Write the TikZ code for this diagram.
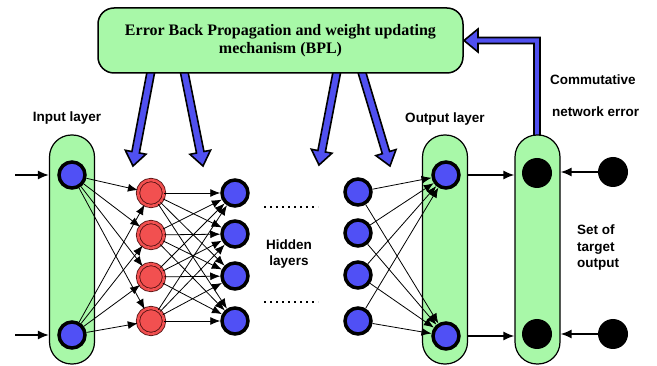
\documentclass[tikz,border=0pt]{standalone}
\usepackage{fontspec}
\setmainfont{Liberation Serif}
\setsansfont{Liberation Sans}
\usetikzlibrary{calc,arrows.meta}

\definecolor{pillgreen}{HTML}{A8F8A8}
\definecolor{nodeblue}{HTML}{5050F5}
\definecolor{nodered}{HTML}{F25050}
\definecolor{ringred}{HTML}{501010}
\definecolor{arrowblue}{HTML}{5050F0}

\tikzset{
  pill/.style={draw=black, line width=1.2pt, fill=pillgreen, rounded corners=22pt,
               minimum width=45pt, minimum height=229pt, inner sep=0pt},
  bplbox/.style={draw=black, line width=1.5pt, fill=pillgreen, rounded corners=16pt,
                 minimum width=365pt, minimum height=65pt, align=center,
                 font=\bfseries\fontsize{16}{18.5}\selectfont},
  bluen/.style={circle, draw=black, line width=3.5pt, fill=nodeblue, minimum size=26pt, inner sep=0pt},
  redn/.style={circle, draw=ringred, line width=0.8pt, double=nodered, double distance=2.6pt,
               fill=nodered, minimum size=26pt, inner sep=0pt},
  blackn/.style={circle, fill=black, minimum size=30pt, inner sep=0pt},
  lbl/.style={font=\sffamily\bfseries\fontsize{13.5}{16.5}\selectfont, inner sep=0pt},
  conn/.style={-{Latex[length=10pt,width=8pt]}, line width=0.8pt},
  ioconn/.style={-{Latex[length=11pt,width=9pt]}, line width=1.6pt},
  fatarrow/.style={draw=black, line width=1.6pt, fill=arrowblue, line join=miter},
}

% wide outlined arrow from #1 to #2
\newcommand\fatarrow[2]{%
  \coordinate (fa-m) at ($(#2)!14pt!(#1)$);
  \draw[fatarrow] ($(#1)!3.8pt!90:(#2)$) -- ($(fa-m)!3.8pt!90:(#2)$) -- ($(fa-m)!10.5pt!90:(#2)$)
    -- (#2) -- ($(fa-m)!10.5pt!-90:(#2)$) -- ($(fa-m)!3.8pt!-90:(#2)$) -- ($(#1)!3.8pt!-90:(#2)$) -- cycle;}

\begin{document}
\begin{tikzpicture}[x=1pt, y=-1pt]
\useasboundingbox (0,0) rectangle (657,366);

% update arrows from the BPL block down to the layers
\coordinate (a1s) at (152,66); \coordinate (a1e) at (133,166);
\coordinate (a2s) at (183,66); \coordinate (a2e) at (203,166);
\coordinate (a3s) at (338,66); \coordinate (a3e) at (319,165);
\coordinate (a4s) at (360,66); \coordinate (a4e) at (390,166);
\fatarrow{a1s}{a1e}
\fatarrow{a2s}{a2e}
\fatarrow{a3s}{a3e}
\fatarrow{a4s}{a4e}

% feedback of the network error into the BPL block
\draw[fatarrow] (534,145) -- (534,43.5) -- (478,43.5) -- (478,52) -- (464,40.5)
  -- (478,29) -- (478,37.5) -- (540,37.5) -- (540,145) -- cycle;

% BPL block
\node[bplbox] (bpl) at (280.5,40.5) {Error Back Propagation and weight updating\\mechanism (BPL)};

% layer columns
\node[pill] (inpill) at (72,249.5) {};
\node[pill] (outpill) at (445,249.5) {};
\node[pill] (tgpill) at (537.5,249.5) {};

% labels
\node[lbl] (linput) at (67,118) {Input layer};
\node[lbl] (loutput) at (445,119) {Output layer};
\node[lbl, align=center] (lhidden) at (289,254) {Hidden\\layers};
\node[lbl, anchor=west] (lcomm) at (550,80) {Commutative};
\node[lbl, anchor=west] (lnet) at (552,112) {network error};
\node[lbl, align=left, anchor=west] (lset) at (577,248) {Set of\\target\\output};

% neurons
\node[bluen] (in1) at (72,175) {};
\node[bluen] (in2) at (72,335) {};
\foreach \i/\y in {1/193,2/235,3/277,4/321} {
  \node[redn] (r\i) at (151,\y) {};
}
\foreach \i/\y in {1/193,2/234,3/276,4/321} {
  \node[bluen] (h\i) at (235,\y) {};
}
\foreach \i/\y in {1/192,2/233,3/275,4/321} {
  \node[bluen] (g\i) at (358,\y) {};
}
\node[bluen] (out1) at (446,175) {};
\node[bluen] (out2) at (446,336) {};
\node[blackn] (b1) at (537,173) {};
\node[blackn] (b2) at (537,334) {};
\node[blackn] (t1) at (613,172) {};
\node[blackn] (t2) at (613,334) {};

% weighted connections
\foreach \a in {in1,in2} \foreach \b in {r1,r2,r3,r4} \draw[conn] (\a) -- (\b);
\foreach \a in {r1,r2,r3,r4} \foreach \b in {h1,h2,h3,h4} \draw[conn] (\a) -- (\b);
\foreach \a in {g1,g2,g3,g4} \foreach \b in {out1,out2} \draw[conn] (\a) -- (\b);

% inputs, outputs and targets
\coordinate (x1) at (15,175);
\coordinate (x2) at (15,335);
\draw[ioconn] (x1) -- (inpill.west |- x1);
\draw[ioconn] (x2) -- (inpill.west |- x2);
\draw[ioconn] (outpill.east |- out1) -- (tgpill.west |- out1);
\draw[ioconn] (outpill.east |- out2) -- (tgpill.west |- out2);
\draw[ioconn] (t1) -- (tgpill.east |- t1);
\draw[ioconn] (t2) -- (tgpill.east |- t2);

% further hidden layers
\coordinate (d1a) at (264,207); \coordinate (d1b) at (318,207);
\coordinate (d2a) at (264,302); \coordinate (d2b) at (318,302);
\draw[line width=2pt, dash pattern=on 2pt off 4pt] (d1a) -- (d1b);
\draw[line width=2pt, dash pattern=on 2pt off 4pt] (d2a) -- (d2b);
\end{tikzpicture}
\end{document}
